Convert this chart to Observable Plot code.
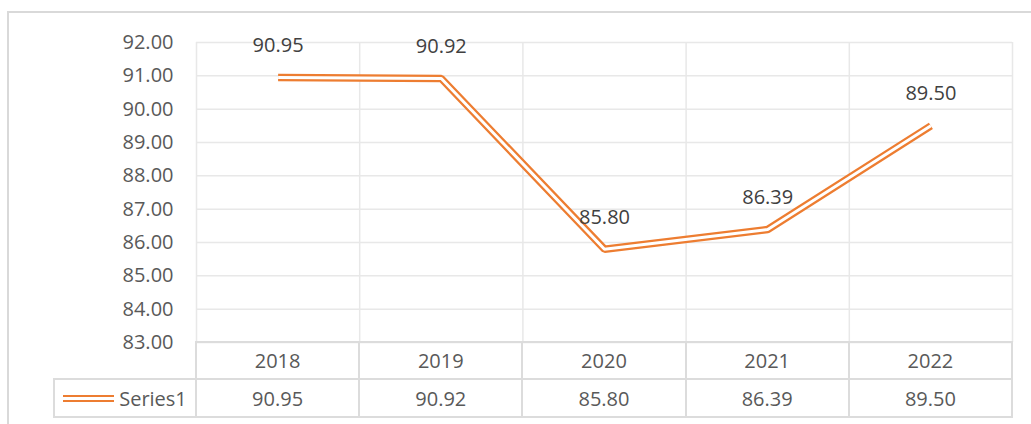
<!DOCTYPE html>
<html><head><meta charset="utf-8">
<script src="https://cdn.jsdelivr.net/npm/d3@7"></script>
<script src="https://cdn.jsdelivr.net/npm/@observablehq/plot@0.6"></script>
<style>
body{margin:0;background:#fff;}
#chart{position:relative;width:1031px;height:424px;overflow:hidden;font-family:"Open Sans",sans-serif;color:#595959;background:#fff;}
#frame{position:absolute;left:7px;top:11px;width:1100px;height:500px;border:2px solid #d9d9d9;box-sizing:border-box;}
#plot{position:absolute;left:0;top:0;}
.cell{position:absolute;box-sizing:border-box;border:2px solid #dcdcdc;text-align:center;font-size:20px;color:#595959;display:flex;align-items:center;justify-content:center;}
.swatch{width:51px;height:3px;border-top:2.5px solid #ED7D31;border-bottom:2.5px solid #ED7D31;margin-right:5px;}
</style></head>
<body>
<div id="chart"><div id="frame"></div><div id="plot"></div></div>
<script>
const years = ["2018", "2019", "2020", "2021", "2022"];
const values = [90.95, 90.92, 85.80, 86.39, 89.50];
const yTicks = [83, 84, 85, 86, 87, 88, 89, 90, 91, 92];
const seriesName = "Series1";
const colEdges = [0, 1, 2, 3, 4, 5];

const data = years.map((year, i) => ({year, i, value: values[i]}));
const xPos = d => d.i + 0.5;

const plot = Plot.plot({
  width: 1031, height: 344,
  marginLeft: 196, marginRight: 19, marginTop: 42, marginBottom: 2,
  x: {domain: [0, 5], axis: null},
  y: {domain: [83, 92], ticks: yTicks, tickFormat: d => d.toFixed(2), tickSize: 0, tickPadding: 23, label: null},
  style: {fontSize: "20px", fontFamily: "'Open Sans', sans-serif", color: "#595959", background: "transparent", overflow: "visible"},
  marks: [
    Plot.ruleY(yTicks, {stroke: "#e8e8e8", strokeWidth: 1.5}),
    Plot.ruleX(colEdges, {y1: 83, y2: 92, stroke: "#e8e8e8", strokeWidth: 1.5}),
    Plot.line(data, {x: xPos, y: "value", stroke: "#ED7D31", strokeWidth: 7.5, strokeLinecap: "butt", strokeLinejoin: "miter"}),
    Plot.line(data, {x: xPos, y: "value", stroke: "#ffffff", strokeWidth: 3, strokeLinecap: "butt", strokeLinejoin: "miter"}),
    Plot.text(data, {x: xPos, y: "value", text: d => d.value.toFixed(2), dy: -32, fontSize: 20, fill: "#404040"})
  ]
});
document.getElementById("plot").appendChild(plot);

// Data table below the plot, aligned to the x scale
const xs = plot.scale("x");
const ys = plot.scale("y");
const chart = document.getElementById("chart");
const row1Top = ys.apply(83) - 1;
const rowH1 = 37, rowH2 = 38;
const row2Top = row1Top + rowH1;
function cell(left, top, width, height, content) {
  const d = document.createElement("div");
  d.className = "cell";
  d.style.left = left + "px"; d.style.top = top + "px";
  d.style.width = (width + 2) + "px"; d.style.height = (height + 2) + "px";
  if (typeof content === "string") d.textContent = content; else d.appendChild(content);
  chart.appendChild(d);
}
years.forEach((y, i) => {
  const l = xs.apply(i) - 1, r = xs.apply(i + 1) - 1;
  cell(l, row1Top, r - l, rowH1, y);
  cell(l, row2Top, r - l, rowH2, values[i].toFixed(2));
});
const leg = document.createElement("div");
leg.style.display = "flex"; leg.style.alignItems = "center";
const sw = document.createElement("div"); sw.className = "swatch";
const lt = document.createElement("span"); lt.textContent = seriesName;
leg.appendChild(sw); leg.appendChild(lt);
const legL = 53;
cell(legL, row2Top, xs.apply(0) - 1 - legL, rowH2, leg);
</script>
</body></html>
